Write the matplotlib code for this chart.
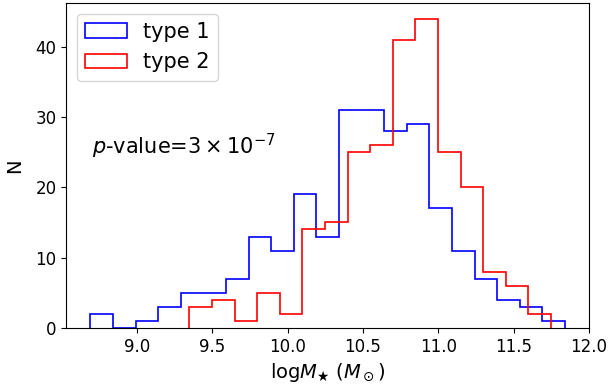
import numpy as np
import matplotlib
matplotlib.use("Agg")
import matplotlib.pyplot as plt

# Histogram counts (bin width 0.15 dex)
type1_start = 8.69
type1_counts = [2, 0, 1, 3, 5, 5, 7, 13, 11, 19, 13, 31, 31, 28, 29, 17, 11, 7, 4, 3, 1]
type2_start = 9.347
type2_counts = [3, 4, 1, 5, 2, 14, 15, 25, 26, 41, 44, 25, 20, 8, 6, 2]
bin_width = 0.15

edges1 = type1_start + bin_width * np.arange(len(type1_counts) + 1)
edges2 = type2_start + bin_width * np.arange(len(type2_counts) + 1)

fig, ax = plt.subplots(figsize=(6.13, 3.89), dpi=100)
fig.subplots_adjust(left=0.108, right=0.961, bottom=0.157, top=0.992)

ax.hist(edges1[:-1], bins=edges1, weights=type1_counts, histtype='step',
        color='blue', linewidth=1.2, label='type 1')
ax.hist(edges2[:-1], bins=edges2, weights=type2_counts, histtype='step',
        color='red', linewidth=1.2, label='type 2')

ax.text(0.05, 0.56, r'$p$-value=$3\times10^{-7}$', transform=ax.transAxes,
        fontsize=15, va='center', ha='left')

ax.set_xlim(8.53, 12.0)
ax.set_xlabel(r'log$M_\bigstar$ ($M_\odot$)', fontsize=14)
ax.set_ylabel('N', fontsize=14, labelpad=8)
ax.tick_params(labelsize=12)
ax.legend(loc='upper left', fontsize=15)

fig.savefig('out.png', dpi=100)
